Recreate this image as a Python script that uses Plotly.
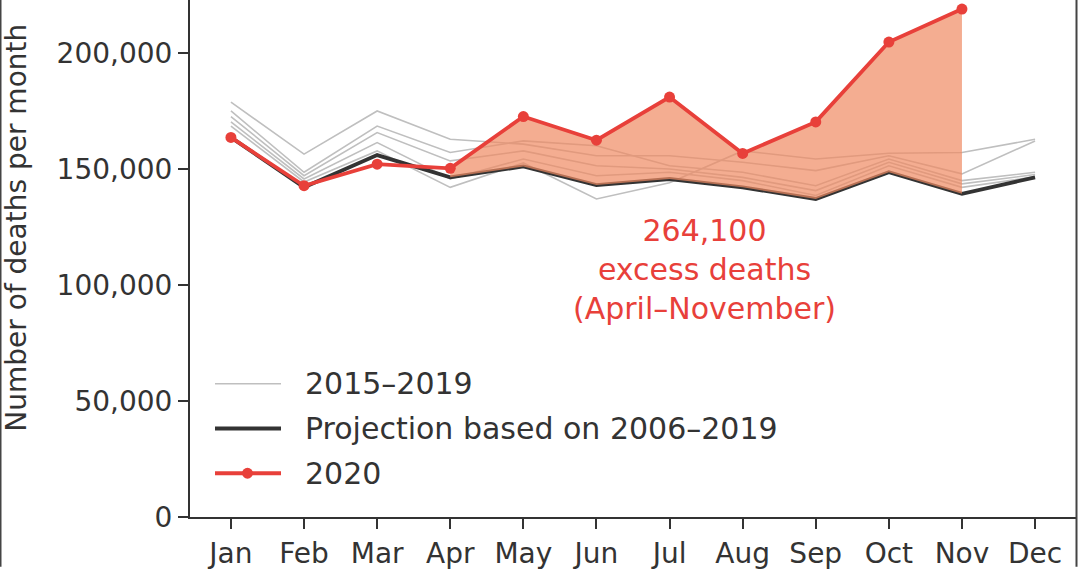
import plotly.graph_objects as go

MONTHS = ["Jan", "Feb", "Mar", "Apr", "May", "Jun",
          "Jul", "Aug", "Sep", "Oct", "Nov", "Dec"]

# monthly deaths, 2015-2019 (one list per year)
YEARS_2015_2019 = [
    [178700, 156300, 174900, 162700, 160600, 155600, 155600, 152800, 149200, 155600, 147800, 162000],
    [174900, 148500, 168400, 157000, 162000, 159900, 151300, 148500, 142700, 154200, 144900, 148500],
    [172500, 147000, 165600, 153400, 157700, 151300, 149900, 146300, 140600, 152800, 143500, 147500],
    [170200, 145600, 161300, 145600, 154200, 147000, 148500, 144900, 138500, 151300, 142000, 146500],
    [168400, 144300, 157700, 142000, 152500, 137000, 144000, 157700, 154200, 156700, 157000, 162700],
]
PROJECTION = [163500, 142000, 155900, 146300, 151000, 143000,
              145600, 142000, 137000, 148500, 139200, 146300]
DEATHS_2020 = [163500, 142700, 152000, 150200, 172500, 162300,
               180900, 156600, 170200, 204600, 218800]
Y_TICKS = [0, 50000, 100000, 150000, 200000]
EXCESS_TEXT = "264,100<br>excess deaths<br>(April–November)"
LEGEND_LABELS = ["2015–2019", "Projection based on 2006–2019", "2020"]

GREY  = "#bfbfbf"
DARK  = "#333333"
RED   = "#e8403a"
FILL  = "rgba(239,138,98,0.7)"
FONT  = "DejaVu Sans"

W, H = 1078, 570
L, R, T, B = 190, 2, 0, 50
PW, PH = W - L - R, H - T - B


def px(x):  # pixel -> paper x
    return (x - L) / PW


def py(y):  # pixel -> paper y
    return (H - B - y) / PH


fig = go.Figure()

for vals in YEARS_2015_2019:
    fig.add_trace(go.Scatter(x=MONTHS, y=vals, mode="lines",
                             line=dict(color=GREY, width=1.6),
                             showlegend=False, hoverinfo="skip"))

fig.add_trace(go.Scatter(x=MONTHS, y=PROJECTION, mode="lines",
                         line=dict(color=DARK, width=3.8),
                         showlegend=False))

# excess area Apr-Nov between 2020 and projection
ex_m = MONTHS[3:11]
fig.add_trace(go.Scatter(
    x=ex_m + ex_m[::-1],
    y=DEATHS_2020[3:11] + PROJECTION[3:11][::-1],
    mode="none", fill="toself", fillcolor=FILL,
    showlegend=False, hoverinfo="skip"))

fig.add_trace(go.Scatter(x=MONTHS[:11], y=DEATHS_2020, mode="lines+markers",
                         line=dict(color=RED, width=3.8),
                         marker=dict(color=RED, size=11),
                         showlegend=False))

fig.add_annotation(x=6.48, y=106600, text=EXCESS_TEXT, showarrow=False,
                   font=dict(family=FONT, size=30, color=RED),
                   xanchor="center", yanchor="middle", align="center")

# y title, positioned as in the (cropped) original
fig.add_annotation(xref="paper", yref="paper", x=px(17), y=py(229),
                   text="Number of deaths per month", textangle=-90,
                   showarrow=False, xanchor="center", yanchor="middle",
                   font=dict(family=FONT, size=28, color=DARK))

# hand-made legend (long line samples as in matplotlib)
rows = [386, 431, 476]
styles = [(GREY, 1.6), (DARK, 4), (RED, 4)]
shapes = []
for (col, wd), yy, lab in zip(styles, rows, LEGEND_LABELS):
    shapes.append(dict(type="line", xref="paper", yref="paper",
                       x0=px(215), x1=px(281), y0=py(yy), y1=py(yy),
                       line=dict(color=col, width=wd)))
    fig.add_annotation(xref="paper", yref="paper", x=px(303), y=py(yy),
                       text=lab, showarrow=False, xanchor="left",
                       yanchor="middle",
                       font=dict(family=FONT, size=30, color=DARK))
shapes.append(dict(type="circle", xref="paper", yref="paper",
                   x0=px(242), x1=px(253), y0=py(rows[2] - 5.5), y1=py(rows[2] + 5.5),
                   fillcolor=RED, line=dict(width=0)))
# dark frame edges of the screenshot
for xx in (0.5, 1076.5):
    shapes.append(dict(type="line", xref="paper", yref="paper",
                       x0=px(xx), x1=px(xx), y0=py(0), y1=py(H),
                       line=dict(color="#444444", width=2)))

fig.update_layout(
    width=W, height=H,
    margin=dict(l=L, r=R, t=T, b=B),
    plot_bgcolor="white", paper_bgcolor="white",
    font=dict(family=FONT, size=29, color=DARK),
    shapes=shapes,
    showlegend=False,
)
fig.update_xaxes(type="category", range=[-0.56, 11.56],
                 showline=True, linecolor=DARK, linewidth=2,
                 ticks="outside", ticklen=10, tickwidth=2, tickcolor=DARK,
                 showgrid=False, zeroline=False,
                 tickfont=dict(family=FONT, size=28, color=DARK))
fig.update_yaxes(range=[0, 222700], tickvals=Y_TICKS,
                 ticktext=[f"{v:,}" for v in Y_TICKS],
                 showline=True, linecolor=DARK, linewidth=2,
                 ticks="outside", ticklen=10, tickwidth=2, tickcolor=DARK,
                 showgrid=False, zeroline=False,
                 tickfont=dict(family=FONT, size=28, color=DARK))

# drop the browser's default 8px body margin so the figure sits at the corner
fig.write_html("out.html", config={"displayModeBar": False},
               post_script="document.body.style.margin='0px';")
